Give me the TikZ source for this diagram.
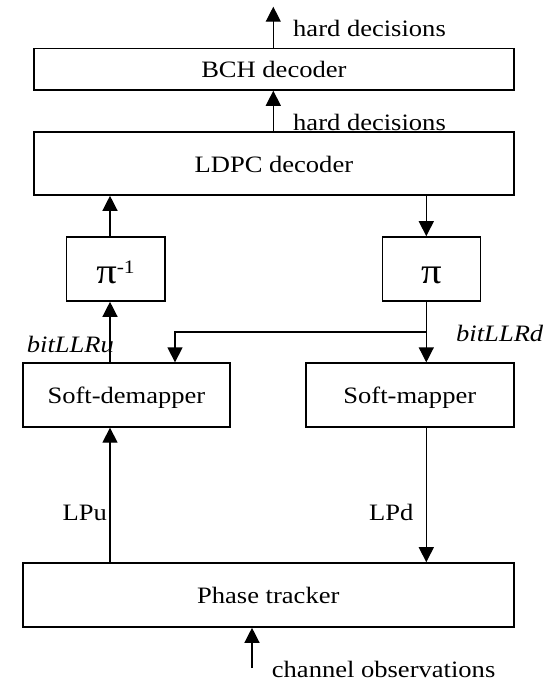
\documentclass[tikz,border=0pt]{standalone}
\usepackage{fontspec}
\setmainfont[FakeStretch=1.13]{Liberation Serif}
\usetikzlibrary{arrows.meta}
\begin{document}
\begin{tikzpicture}[x=1pt,y=-1pt,
  txt/.style={font=\fontsize{23.5}{28}\selectfont},
  blk/.style={txt, draw, line width=1.6pt, inner sep=0pt, text height=17pt, text depth=0pt},
  pibox/.style={blk, text height=28pt, font=\fontsize{36}{40}\selectfont},
  arr/.style={line width=1.3pt, -{Triangle[length=15pt,width=15pt]}},
  wire/.style={line width=1.3pt},
  lbl/.style={txt, inner sep=0pt}]

\useasboundingbox (0,0) rectangle (559,681);

% blocks
\node[blk, minimum width=480.3pt, minimum height=41.3pt] (bch)  at (273.9,69.3) {BCH decoder};
\node[blk, minimum width=480.3pt, minimum height=63pt]   (ldpc) at (273.9,163.5) {LDPC decoder};
\node[pibox, minimum width=98.4pt, minimum height=64pt]  (pinv) at (115.5,269) {π\raisebox{10pt}{\fontsize{19}{22}\selectfont -1}};
\node[pibox, minimum width=98pt, minimum height=64pt]    (pi)   at (431.5,269) {π};
\node[blk, minimum width=207pt, minimum height=63.7pt]   (sdm)  at (126.4,395) {Soft-demapper};
\node[blk, minimum width=207.8pt, minimum height=63.7pt] (sm)   at (409.8,395) {Soft-mapper};
\node[blk, minimum width=491pt, minimum height=64pt]     (pt)   at (268.3,595) {Phase tracker};

% connector positions
\coordinate (top)  at (273.3,6.7);
\coordinate (xl)   at (110,0);
\coordinate (xr)   at (426.3,0);
\coordinate (xm)   at (175,0);
\coordinate (junc) at (426.3,332);
\coordinate (chan) at (252,668);

% connectors
\draw[arr] (bch.north -| top) -- (top);
\draw[arr] (ldpc.north -| top) -- (bch.south -| top);
\draw[arr] (pinv.north -| xl) -- (ldpc.south -| xl);
\draw[arr] (ldpc.south -| xr) -- (pi.north -| xr);
\draw[wire] (pi.south -| xr) -- (junc);
\draw[arr] (junc) -- (sm.north -| xr);
\draw[arr] (junc) -- (junc -| xm) -- (sdm.north -| xm);
\draw[arr] (sdm.north -| xl) -- (pinv.south -| xl);
\draw[arr] (pt.north -| xl) -- (sdm.south -| xl);
\draw[arr] (sm.south -| xr) -- (pt.north -| xr);
\draw[arr] (chan) -- (pt.south -| chan);

% labels
\node[lbl, anchor=base west] (hd1) at (293,36) {hard decisions};
\node[lbl, anchor=base west] (hd2) at (293,130.5) {hard decisions};
\node[lbl, anchor=base west, font=\fontsize{23.5}{28}\selectfont\itshape] (bu) at (26.7,352) {bitLLRu};
\node[lbl, anchor=base west, font=\fontsize{23.5}{28}\selectfont\itshape] (bd) at (456,341.7) {bitLLRd};
\node[lbl, anchor=base east] (lpu) at (107,520) {LPu};
\node[lbl, anchor=base east] (lpd) at (413.5,520) {LPd};
\node[lbl, anchor=base west] (co) at (271.7,677) {channel observations};
\end{tikzpicture}
\end{document}
